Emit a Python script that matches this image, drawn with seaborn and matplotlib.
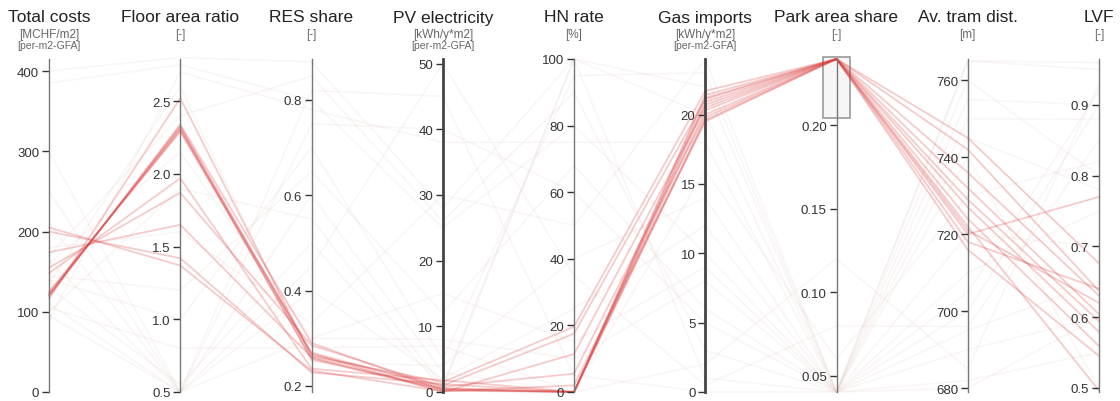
import matplotlib
matplotlib.use("Agg")
import matplotlib.pyplot as plt
from matplotlib.patches import Rectangle
import seaborn as sns
import pandas as pd

# Axis names, units and scale domains
dims = ["Total costs", "Floor area ratio", "RES share", "PV electricity", "HN rate",
        "Gas imports", "Park area share", "Av. tram dist.", "LVF"]
units = ["[MCHF/m2]", "[-]", "[-]", "[kWh/y*m2]", "[%]", "[kWh/y*m2]", "[-]", "[m]", "[-]"]
subunits = ["[per-m2-GFA]", "", "", "[per-m2-GFA]", "", "[per-m2-GFA]", "", "", ""]
domains = [(0, 415), (0.5, 2.79), (0.187, 0.886), (0, 50.7), (0, 100),
           (0, 24), (0.0404, 0.2395), (679, 765.5), (0.494, 0.965)]
ticks = [[0, 100, 200, 300, 400], [0.5, 1.0, 1.5, 2.0, 2.5], [0.2, 0.4, 0.6, 0.8],
         [0, 10, 20, 30, 40, 50], [0, 20, 40, 60, 80, 100], [0, 5, 10, 15, 20],
         [0.05, 0.10, 0.15, 0.20], [680, 700, 720, 740, 760], [0.5, 0.6, 0.7, 0.8, 0.9]]
tick_fmt = ["{:.0f}", "{:.1f}", "{:.1f}", "{:.0f}", "{:.0f}", "{:.0f}", "{:.2f}", "{:.0f}", "{:.1f}"]

# Brushed range on Park area share
brush_range = (0.204, 0.2395)

# Selected (highlighted) solutions
tc_sel = [116, 119, 120, 122, 123, 125, 148, 155, 174, 200, 205, 121]
far_sel = [2.52, 2.34, 2.33, 2.31, 2.30, 2.29, 1.97, 1.87, 1.65, 1.42, 1.37, 2.32]
res_sel = [0.262, 0.29, 0.265, 0.27, 0.258, 0.268, 0.236, 0.285, 0.26, 0.228, 0.232, 0.255]
pv_sel = [1.5, 0.3, 1.0, 0.6, 0.2, 0.0, 1.8, 0.8, 0.4, 1.2, 0.1, 0.5]
hn_sel = [19.6, 0, 17.5, 0, 0, 11.4, 0, 5.5, 0, 0, 2.0, 0]
gas_sel = [21.7, 21.4, 21.1, 20.9, 20.7, 20.5, 20.3, 20.0, 19.8, 19.6, 19.5, 21.2]
park_sel = [0.2395, 0.2395, 0.2395, 0.2395, 0.2395, 0.2395, 0.2395, 0.2395, 0.2395, 0.2395, 0.2395, 0.2395]
tram_sel = [745, 742, 736, 732, 729, 727, 724, 722, 721, 720, 718, 716]
lvf_sel = [0.676, 0.637, 0.63, 0.604, 0.594, 0.579, 0.559, 0.496, 0.62, 0.77, 0.64, 0.545]

# Other (faded) solutions
tc_oth = [400, 385, 95, 110, 140, 160, 250, 90, 130, 180, 300, 170, 105, 145, 210, 135, 100, 165]
far_oth = [2.8, 2.75, 0.5, 0.5, 1.0, 2.15, 0.5, 2.7, 0.55, 1.6, 0.5, 2.4, 0.8, 1.2, 0.5, 2.6, 1.9, 0.5]
res_oth = [0.88, 0.8, 0.75, 0.45, 0.7, 0.3, 0.6, 0.78, 0.5, 0.33, 0.4, 0.85, 0.28, 0.65, 0.82, 0.25, 0.55, 0.3]
pv_oth = [28, 25, 40, 50, 5, 8, 3, 38, 0.5, 30, 2, 26, 7, 12, 45, 4, 1, 15]
hn_oth = [100, 80, 60, 35, 95, 10, 0, 75, 100, 50, 25, 90, 0, 68, 5, 40, 100, 15]
gas_oth = [22, 10, 5, 0.5, 23, 8, 2, 18, 1, 24, 12, 3, 16, 6, 0, 14, 20, 9]
park_oth = [0.0404, 0.0404, 0.0404, 0.08, 0.0404, 0.0404, 0.12, 0.0404, 0.0404, 0.0404,
            0.0404, 0.0404, 0.06, 0.0404, 0.0404, 0.0404, 0.0404, 0.0404]
tram_oth = [765, 700, 680, 696, 760, 740, 685, 720, 750, 710, 690, 765, 730, 705, 682, 755, 745, 695]
lvf_oth = [0.96, 0.9, 0.6, 0.85, 0.8, 0.5, 0.93, 0.7, 0.88, 0.75, 0.6, 0.95, 0.82, 0.92, 0.55, 0.9, 0.78, 0.65]

sel_cols = [tc_sel, far_sel, res_sel, pv_sel, hn_sel, gas_sel, park_sel, tram_sel, lvf_sel]
oth_cols = [tc_oth, far_oth, res_oth, pv_oth, hn_oth, gas_oth, park_oth, tram_oth, lvf_oth]


def to_long(cols):
    rows = []
    for line in range(len(cols[0])):
        for i, col in enumerate(cols):
            lo, hi = domains[i]
            rows.append({"axis": i, "norm": (col[line] - lo) / (hi - lo), "line": line})
    return pd.DataFrame(rows)


sns.set_style("white")
plt.rcParams['font.family'] = ['Liberation Sans', 'DejaVu Sans']

fig = plt.figure(figsize=(11.2, 4.02), dpi=100)
W, H = 1120, 402
x0, x1 = 49 / W, 1099 / W
y0, y1 = 1 - 393 / H, 1 - 60 / H

ax = fig.add_axes([x0, y0, x1 - x0, y1 - y0])

# faded lines first, then the brushed selection
sns.lineplot(data=to_long(oth_cols), x="axis", y="norm", units="line", estimator=None,
             color="#dcc6bc", alpha=0.15, lw=1.2, ax=ax, clip_on=False)
sns.lineplot(data=to_long(sel_cols), x="axis", y="norm", units="line", estimator=None,
             color="#d9393a", alpha=0.26, lw=1.3, ax=ax, clip_on=False)
ax.set_xlim(0, 8)
ax.set_ylim(0, 1)
ax.axis("off")

# brush rectangle
lo, hi = domains[6]
b0 = (brush_range[0] - lo) / (hi - lo)
ax.add_patch(Rectangle((6 - 0.1, b0), 0.205, 1.006 - b0, facecolor="gray", alpha=0.07,
                       edgecolor="none", clip_on=False))
ax.add_patch(Rectangle((6 - 0.1, b0), 0.205, 1.006 - b0, facecolor="none",
                       edgecolor="#9a9a9a", lw=1.2, clip_on=False))

# one vertical axis per dimension
for i, name in enumerate(dims):
    xa = x0 + i / 8 * (x1 - x0)
    dax = fig.add_axes([xa, y0, 1e-5, y1 - y0])
    dax.set_ylim(*domains[i])
    dax.patch.set_visible(False)
    for s in ["top", "right", "bottom"]:
        dax.spines[s].set_visible(False)
    thick = name in ("PV electricity", "Gas imports")
    dax.spines["left"].set_color("#444444" if thick else "#777777")
    dax.spines["left"].set_linewidth(2.0 if thick else 1.0)
    dax.set_xticks([])
    dax.set_yticks(ticks[i])
    dax.set_yticklabels([tick_fmt[i].format(t) for t in ticks[i]])
    dax.tick_params(axis="y", labelsize=9.5, colors="#333333", length=5, width=1, pad=2,
                    left=True)

    fig.text(xa, 1 - 18 / H, name, ha="center", va="center", fontsize=12.5, color="#222222")
    fig.text(xa, 1 - 35 / H, units[i], ha="center", va="center", fontsize=8.5, color="#666666")
    if subunits[i]:
        fig.text(xa, 1 - 46 / H, subunits[i], ha="center", va="center", fontsize=7.5,
                 color="#666666")

fig.savefig("out.png", dpi=100)
